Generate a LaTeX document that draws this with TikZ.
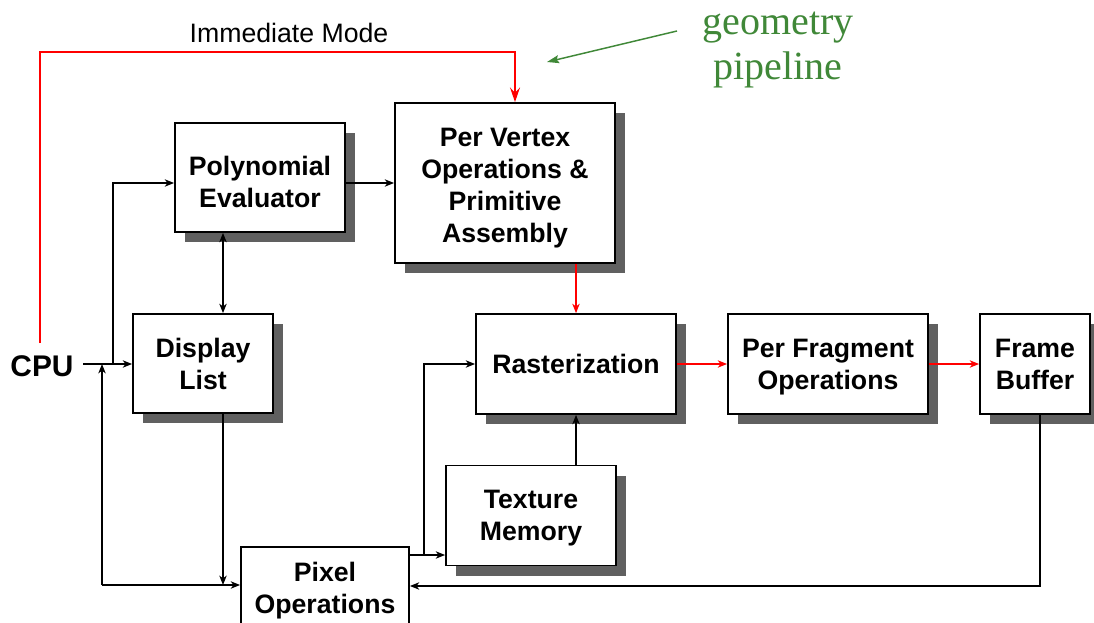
\documentclass[tikz,border=0pt]{standalone}
\usepackage{fontspec}
\setmainfont{Liberation Sans}
\newfontfamily\pipeserif{Liberation Serif}
\usetikzlibrary{arrows.meta,calc}
\definecolor{shade}{RGB}{96,96,96}
\definecolor{pipegreen}{RGB}{64,136,56}

\begin{document}
\begin{tikzpicture}[x=0.75pt,y=-0.75pt,
  block/.style={draw=black, line width=1.3pt, fill=white, align=center,
    font=\fontsize{20}{24}\selectfont\bfseries, inner sep=0pt, text depth=0pt},
  shadowed/.style={preaction={fill=shade, draw=none,
    transform canvas={shift={(7.5pt,-7.5pt)}}}},
  size/.style 2 args={minimum width=#1*0.75pt, minimum height=#2*0.75pt},
  tip/.tip={Stealth[length=7pt,width=5.5pt,inset=2pt]},
  conn/.style={line width=1.1pt, -tip},
  bothconn/.style={line width=1.1pt, tip-tip},
  redconn/.style={line width=1.1pt, draw=red, -{Stealth[length=7pt,width=5.5pt,inset=2pt]}},
  bigred/.style={line width=1.1pt, draw=red, -{Stealth[length=11pt,width=7.5pt,inset=4pt]}},
  greenconn/.style={line width=1.1pt, draw=pipegreen, -{Stealth[length=9pt,width=6pt,inset=1.5pt]}}
]
\useasboundingbox (0,0) rectangle (1094,623);
\clip (0,0) rectangle (1094,623);
\fill[white] (0,0) rectangle (1094,623);

% processing blocks
\node[block,shadowed,size={170}{109}] (poly) at (260,177.5) {\rule{0pt}{21.6pt}Polynomial\\Evaluator};
\node[block,shadowed,size={220}{160}] (vert) at (505,183) {\rule{0pt}{17pt}Per Vertex\\Operations \&\\Primitive\\Assembly};
\node[block,shadowed,size={140}{99}]  (disp) at (203,363.5) {Display\\List};
\node[block,shadowed,size={200}{100}] (rast) at (576,364) {Rasterization};
\node[block,shadowed,size={200}{100}] (frag) at (828,364) {Per Fragment\\Operations};
\node[block,shadowed,size={110}{100}] (fb)   at (1035,364) {Frame\\Buffer};
\node[block,shadowed,size={170}{100}] (tex)  at (531,515.5) {Texture\\Memory};
\node[block,size={168}{82}]           (pix)  at (325,588) {Pixel\\Operations};

% labels
\node[font=\fontsize{22.4}{26}\selectfont\bfseries, inner sep=0pt] (cpu) at (42,366) {CPU};
\node[font=\fontsize{20}{24}\selectfont, inner sep=0pt] (imlabel) at (289,33) {Immediate Mode};
\node[text=pipegreen, font=\pipeserif\fontsize{30}{34}\selectfont, align=center, inner sep=0pt]
  (geo) at (778,50) {geometry\\pipeline};

% routing points
\coordinate (cpuOut) at (83,364);
\coordinate (jUp) at (113,364);
\coordinate (jDown) at (102,364);
\coordinate (colA) at (223,0);
\coordinate (colR) at (424,0);
\coordinate (colFB) at (1040,0);
\coordinate (colIM) at (515,0);
\coordinate (rowV) at (0,183);
\coordinate (rowP) at (0,585);
\coordinate (rowF) at (0,586);
\coordinate (rowT) at (0,555);
\coordinate (rowIM) at (0,52);
\coordinate (imStart) at (40,343);
\coordinate (geoTail) at (677,31);
\coordinate (geoTip) at (547,62);

% black data paths
\draw[conn] (cpuOut) -- (disp.west |- cpuOut);
\draw[conn] (jUp) |- (poly.west |- rowV);
\draw[conn] (poly.east |- rowV) -- (vert.west |- rowV);
\draw[bothconn] (poly.south -| colA) -- (disp.north -| colA);
\draw[conn] (disp.south -| colA) -- (colA |- rowP);
\draw[conn] (jDown |- rowP) -- (pix.west |- rowP);
\draw[conn] (jDown |- rowP) -- (jDown);
\draw[conn] (fb.south -| colFB) |- (pix.east |- rowF);
\draw[conn] (pix.east |- rowT) -- (tex.west |- rowT);
\draw[conn] (colR |- rowT) |- (rast.west);
\draw[conn] (tex.north -| rast.south) -- (rast.south);

% geometry pipeline (red)
\draw[bigred] (imStart) |- (colIM |- rowIM) -- (vert.north -| colIM);
\draw[redconn] (vert.south -| rast.north) -- (rast.north);
\draw[redconn] (rast.east) -- (frag.west);
\draw[redconn] (frag.east) -- (fb.west);

% pointer from the green caption
\draw[greenconn] (geoTail) -- (geoTip);
\end{tikzpicture}
\end{document}
